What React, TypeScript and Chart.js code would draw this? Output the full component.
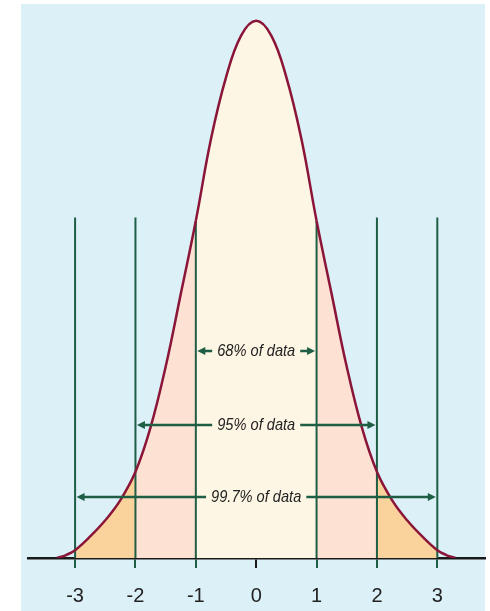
import React, { useEffect, useRef } from "react";
import { Chart, registerables } from "chart.js";

Chart.register(...registerables);

// Curve (x in standard deviations, y in density units)
const curveX = [-3.3, -3.15, -3, -2.75, -2.5, -2.25, -2, -1.75, -1.5, -1.25, -1, -0.75, -0.5, -0.25, 0, 0.25, 0.5, 0.75, 1, 1.25, 1.5, 1.75, 2, 2.25, 2.5, 2.75, 3, 3.15, 3.3];
const curveY = [0, 0.0022, 0.0058, 0.016, 0.028, 0.043, 0.064, 0.097, 0.142, 0.196, 0.2505, 0.311, 0.357, 0.388, 0.399, 0.388, 0.357, 0.311, 0.2505, 0.196, 0.142, 0.097, 0.064, 0.043, 0.028, 0.016, 0.0058, 0.0022, 0];

const tickValues = [-3, -2, -1, 0, 1, 2, 3];
const tickLabels = ["-3", "-2", "-1", "0", "1", "2", "3"];

const markerX = [-3, -2, -1, 1, 2, 3];
const markerTop = [0.253, 0.253, 0.2505, 0.2505, 0.253, 0.253];

const rangeLabels = ["68% of data", "95% of data", "99.7% of data"];
const rangeFrom = [-1, -2, -3];
const rangeTo = [1, 2, 3];
const rangeLevel = [0.1538, 0.0988, 0.0453];

const BG = "#dcf0f7";
const CREAM = "#fef6e4";
const PEACH = "#fde2d3";
const ORANGE = "#fad39c";
const CURVE = "#8b1538";
const GREEN = "#1d5e44";
const AXIS = "#1a1a1a";
const TEXT = "#222222";

function regionColor(m: number): string {
  const a = Math.abs(m);
  if (a < 1) return CREAM;
  if (a < 2) return PEACH;
  if (a < 3) return ORANGE;
  return "rgba(0,0,0,0)";
}

const bgPlugin = {
  id: "bgPanel",
  beforeDraw(chart: any) {
    const { ctx, chartArea } = chart;
    ctx.save();
    ctx.fillStyle = BG;
    ctx.fillRect(chartArea.left - 7, chartArea.top, chartArea.right - chartArea.left + 7, chart.height - chartArea.top);
    ctx.restore();
  },
};

const TEXT_SQUEEZE = 0.86;

const arrowPlugin = {
  id: "rangeArrows",
  afterDatasetsDraw(chart: any) {
    const { ctx } = chart;
    const xs = chart.scales.x;
    const ys = chart.scales.y;
    ctx.save();
    ctx.font = 'italic 17px "Liberation Sans", Arial, sans-serif';
    ctx.textAlign = "center";
    ctx.textBaseline = "middle";
    rangeLabels.forEach((label, i) => {
      const x1 = xs.getPixelForValue(rangeFrom[i]) + 1.5;
      const x2 = xs.getPixelForValue(rangeTo[i]) - 1.5;
      const yy = ys.getPixelForValue(rangeLevel[i]);
      const cx = (x1 + x2) / 2;
      const w = ctx.measureText(label).width * TEXT_SQUEEZE;
      const gap = w / 2 + 5;
      ctx.strokeStyle = GREEN;
      ctx.fillStyle = GREEN;
      ctx.lineWidth = 2.6;
      ctx.beginPath();
      ctx.moveTo(x1 + 6, yy);
      ctx.lineTo(cx - gap, yy);
      ctx.moveTo(cx + gap, yy);
      ctx.lineTo(x2 - 6, yy);
      ctx.stroke();
      ctx.beginPath();
      ctx.moveTo(x1, yy);
      ctx.lineTo(x1 + 8, yy - 4);
      ctx.lineTo(x1 + 8, yy + 4);
      ctx.closePath();
      ctx.fill();
      ctx.beginPath();
      ctx.moveTo(x2, yy);
      ctx.lineTo(x2 - 8, yy - 4);
      ctx.lineTo(x2 - 8, yy + 4);
      ctx.closePath();
      ctx.fill();
      ctx.save();
      ctx.translate(cx, yy);
      ctx.scale(TEXT_SQUEEZE, 1);
      ctx.fillStyle = TEXT;
      ctx.fillText(label, 0, 0);
      ctx.restore();
    });
    ctx.restore();
  },
};

export default function App() {
  const ref = useRef<HTMLCanvasElement | null>(null);

  useEffect(() => {
    if (!ref.current) return;
    const datasets: any[] = [
      {
        data: curveX.map((x, i) => ({ x, y: curveY[i] })),
        borderColor: CURVE,
        borderWidth: 2.5,
        pointRadius: 0,
        fill: "origin",
        backgroundColor: CREAM,
        tension: 0.4,
        segment: {
          backgroundColor: (c: any) => regionColor((c.p0.parsed.x + c.p1.parsed.x) / 2),
        },
      },
      ...markerX.map((v, i) => ({
        data: [
          { x: v, y: 0 },
          { x: v, y: markerTop[i] },
        ],
        borderColor: GREEN,
        borderWidth: 2,
        pointRadius: 0,
        fill: false,
      })),
    ];

    const chart = new Chart(ref.current, {
      type: "line",
      data: { datasets },
      options: {
        animation: false,
        responsive: false,
        devicePixelRatio: 1,
        layout: { padding: { left: 28, right: 5, top: 4, bottom: 0 } },
        plugins: {
          legend: { display: false },
          tooltip: { enabled: false },
          filler: { drawTime: "beforeDatasetsDraw" },
        },
        scales: {
          x: {
            type: "linear",
            min: -3.78,
            max: 3.79,
            afterBuildTicks: (s: any) => {
              s.ticks = tickValues.map((v) => ({ value: v }));
            },
            afterFit: (s: any) => {
              s.height = 53;
            },
            ticks: {
              autoSkip: false,
              maxRotation: 0,
              padding: 16,
              color: TEXT,
              font: { family: '"Liberation Sans", Arial, sans-serif', size: 20 },
              callback: (_v: any, i: number) => tickLabels[i],
            },
            grid: {
              drawOnChartArea: false,
              drawTicks: true,
              tickLength: 10,
              lineWidth: 2,
              color: (c: any) => (c.tick && c.tick.value === 0 ? AXIS : GREEN),
            },
            border: { display: true, color: AXIS, width: 2.5 },
          },
          y: {
            display: false,
            min: 0,
            max: 0.4115,
          },
        },
      },
      plugins: [bgPlugin, arrowPlugin],
    } as any);

    return () => chart.destroy();
  }, []);

  return (
    <div style={{ position: "absolute", left: 0, top: 0, width: 490, height: 611, background: "#ffffff" }}>
      <canvas ref={ref} width={490} height={611} style={{ display: "block" }} />
    </div>
  );
}
